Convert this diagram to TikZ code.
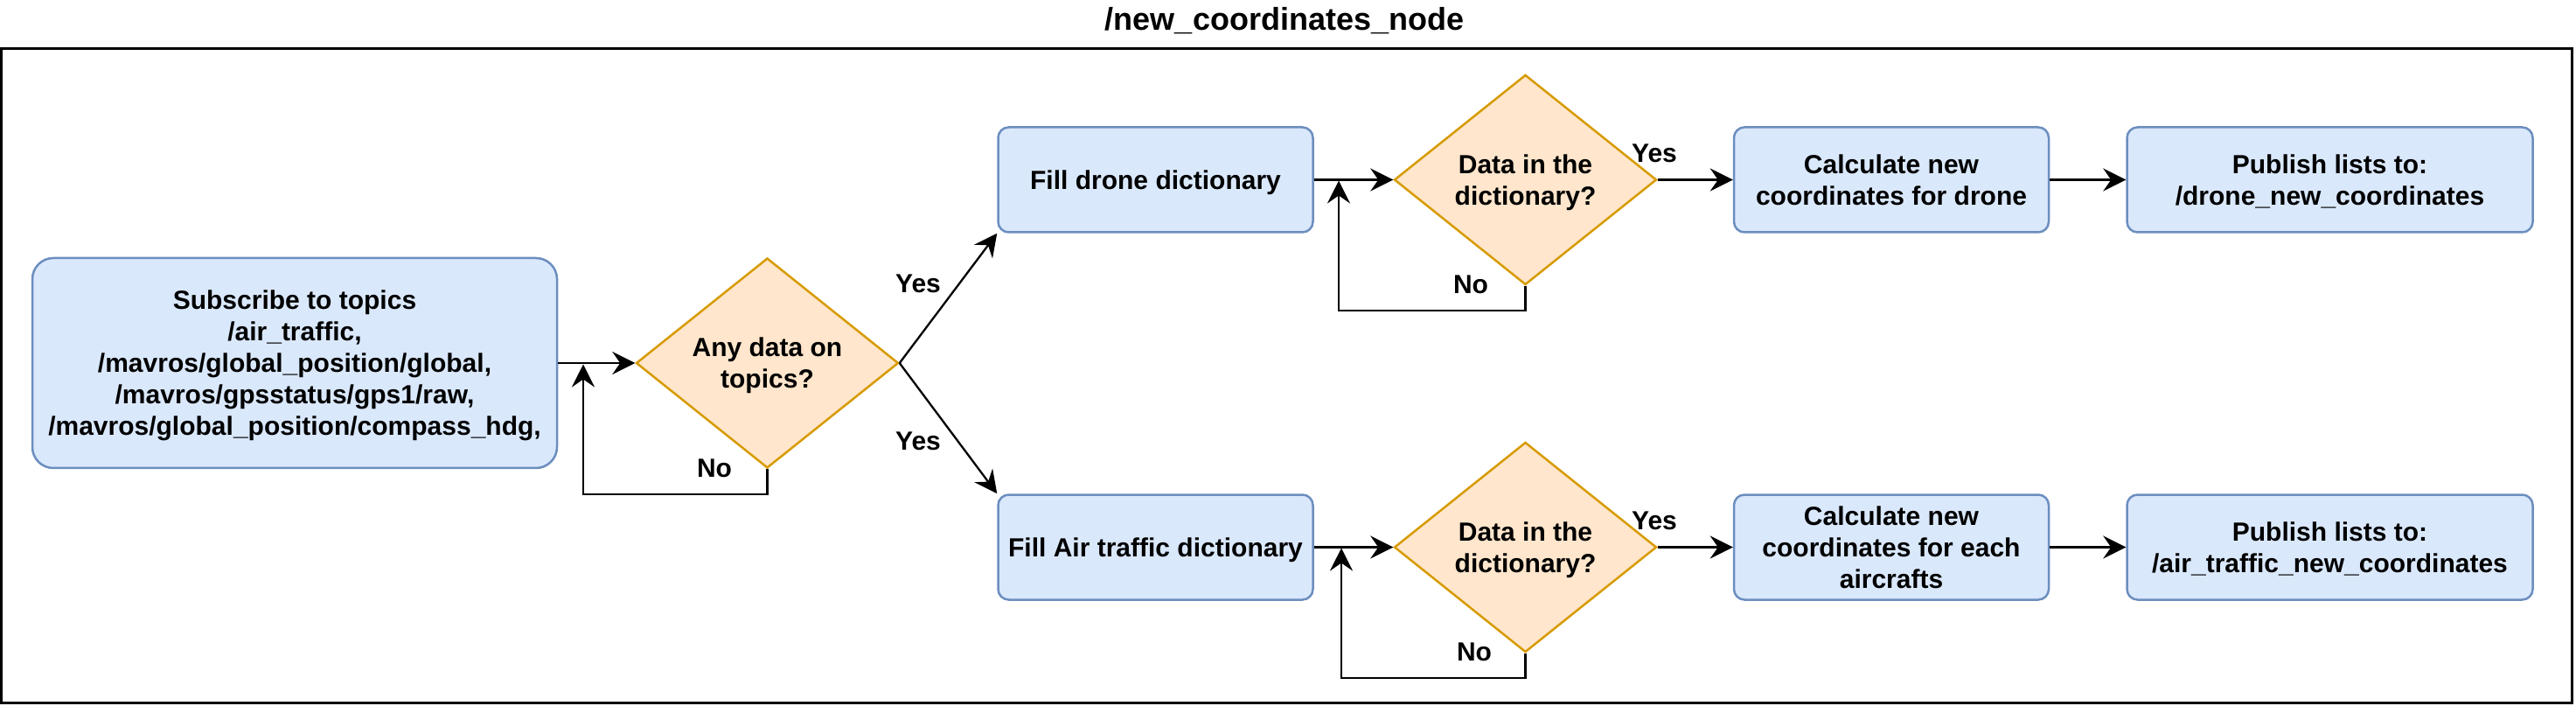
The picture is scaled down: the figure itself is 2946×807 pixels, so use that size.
\documentclass[tikz,border=0pt]{standalone}
\usepackage{fontspec}
\setmainfont{Liberation Sans}
\usetikzlibrary{arrows.meta,shapes.geometric}
\definecolor{bfill}{HTML}{DAE8FC}
\definecolor{bdraw}{HTML}{6C8EBF}
\definecolor{ofill}{HTML}{FFE6CC}
\definecolor{odraw}{HTML}{D79B00}
\tikzset{
  txt/.style={font=\fontsize{15pt}{18pt}\selectfont\bfseries, align=center},
  procbox/.style={txt, text depth=0pt, draw=bdraw, fill=bfill, line width=1.25pt, rounded corners=6pt, inner sep=0pt, minimum height=60pt},
  decis/.style={txt, text depth=0pt, diamond, draw=odraw, fill=ofill, line width=1.25pt, inner sep=0pt, minimum width=150pt, minimum height=120pt},
  arr/.style={line width=1.15pt, -{Stealth[length=13pt,width=13pt,inset=4.5pt]}},
  lbl/.style={txt, inner sep=0pt},
}
\begin{document}
\begin{tikzpicture}[x=0.5pt,y=-0.5pt]
\useasboundingbox (0,0) rectangle (2946,807);
\node[txt, font=\fontsize{18pt}{21pt}\selectfont\bfseries, anchor=base] (title) at (1469,35) {/new\_coordinates\_node};
\draw[line width=1.75pt] (1.5,55.5) rectangle (2941.5,803.5);

\node[procbox, minimum width=300pt, minimum height=120pt, rounded corners=12pt] (sub) at (337,415)
  {Subscribe to topics\\/air\_traffic,\\/mavros/global\_position/global,\\/mavros/gpsstatus/gps1/raw,\\/mavros/global\_position/compass\_hdg,};
\node[decis] (d1) at (877.5,415) {Any data on\\topics?};

\node[procbox, minimum width=180pt] (fd) at (1321.5,205.5) {Fill drone dictionary};
\node[decis] (d2) at (1744.5,205.5) {Data in the\\dictionary?};
\node[procbox, minimum width=180pt] (cd) at (2163,205.5) {Calculate new\\coordinates for drone};
\node[procbox, minimum width=232pt] (pd) at (2664.5,205.5) {Publish lists to:\\/drone\_new\_coordinates};

\node[procbox, minimum width=180pt] (fa) at (1321.5,625.5) {Fill Air traffic dictionary};
\node[decis] (d3) at (1744.5,625.5) {Data in the\\dictionary?};
\node[procbox, minimum width=180pt] (ca) at (2163,625.5) {Calculate new\\coordinates for each\\aircrafts};
\node[procbox, minimum width=232pt] (pa) at (2664.5,625.5) {Publish lists to:\\/air\_traffic\_new\_coordinates};

\coordinate (l1) at (667,565);
\coordinate (j1) at (667,416.5);
\coordinate (l2) at (1531,355);
\coordinate (j2) at (1531,206.5);
\coordinate (l3) at (1534,775);
\coordinate (j3) at (1534,626.5);

\draw[arr] (sub.east) -- (d1.west);
\draw[arr] (d1.south) |- (l1) -- (j1);
\draw[arr] (d1.east) -- (fd.south west);
\draw[arr] (d1.east) -- (fa.north west);

\draw[arr] (fd.east) -- (d2.west);
\draw[arr] (d2.south) |- (l2) -- (j2);
\draw[arr] (d2.east) -- (cd.west);
\draw[arr] (cd.east) -- (pd.west);

\draw[arr] (fa.east) -- (d3.west);
\draw[arr] (d3.south) |- (l3) -- (j3);
\draw[arr] (d3.east) -- (ca.west);
\draw[arr] (ca.east) -- (pa.west);

\node[lbl] (no1) at (817,535) {No};
\node[lbl] (yes1) at (1050,324) {Yes};
\node[lbl] (yes2) at (1050,504) {Yes};
\node[lbl] (no2) at (1682,325) {No};
\node[lbl] (yes3) at (1892,175) {Yes};
\node[lbl] (no3) at (1686,745) {No};
\node[lbl] (yes4) at (1892,595) {Yes};
\end{tikzpicture}
\end{document}
